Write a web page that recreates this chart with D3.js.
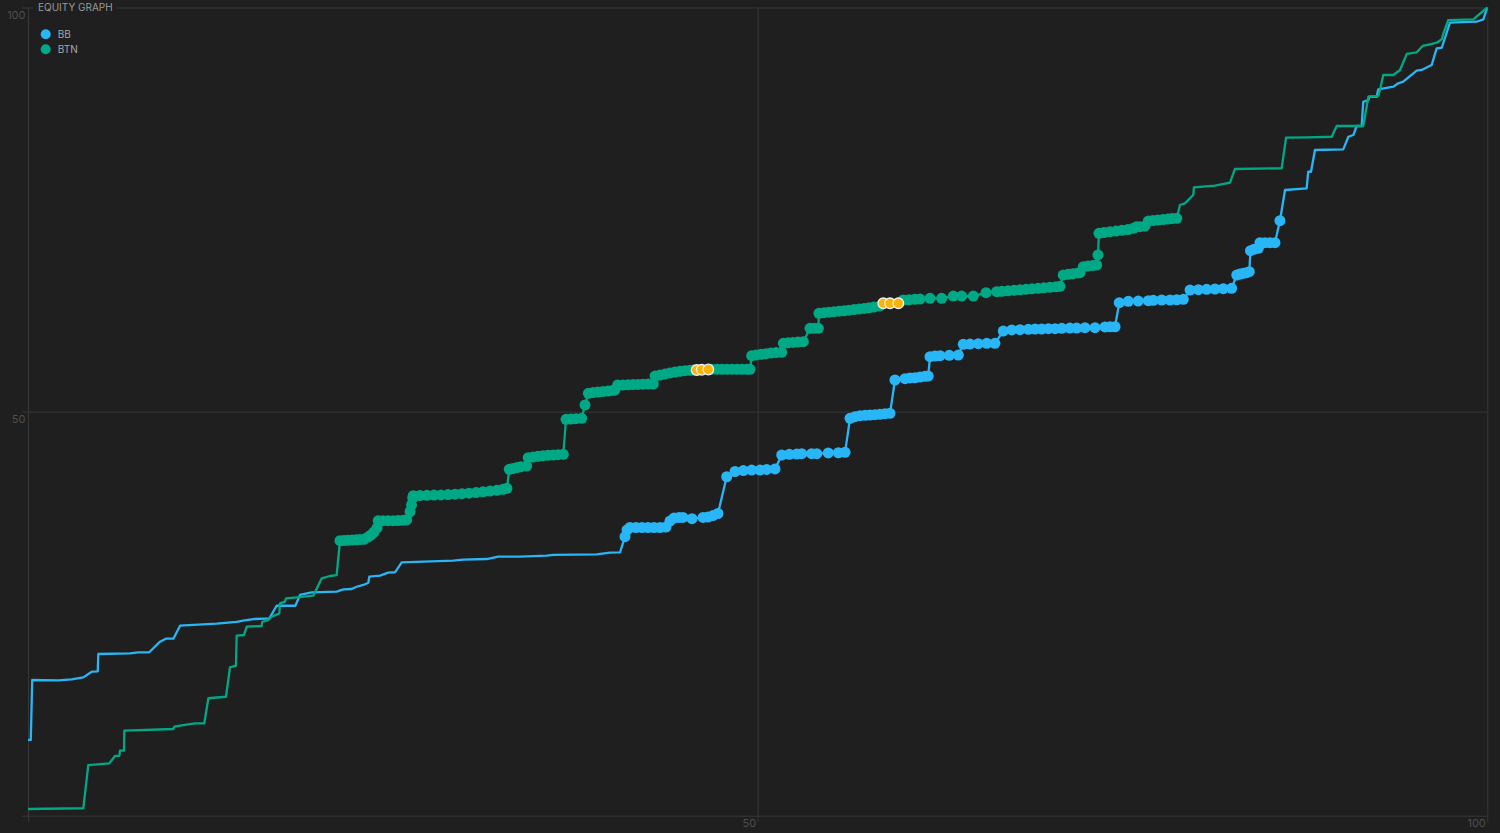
<!DOCTYPE html>
<html>
<head>
<meta charset="utf-8">
<script src="https://cdn.jsdelivr.net/npm/d3@7"></script>
<style>
  html, body { margin: 0; padding: 0; background: #1f1f1f; }
  svg { display: block; }
</style>
</head>
<body>
<svg id="chart" width="1500" height="833"></svg>
<script>
// ---------- DATA (x = % of range, y = equity %) ----------
const seriesNames = ["BB", "BTN"];
const axisTicks = [0, 50, 100];
const tickLabels = ["", "50", "100"];

const bbHead = [[0,9.37],[0.19,9.37],[0.29,16.79],[2.08,16.75],[2.99,16.88],[3.79,17.12],[4.37,17.82],[4.78,17.87],[4.82,20.01],[6.99,20.09],[7.56,20.22],[8.31,20.22],[9.05,21.53],[9.44,21.90],[9.96,21.90],[10.42,23.51],[12.93,23.76],[14.30,23.97],[14.75,24.13],[15.56,24.34],[16.54,24.42],[17.04,25.98],[18.32,25.98],[18.64,27.31],[19.44,27.64],[21.15,27.72],[21.61,28.01],[22.18,28.05],[22.52,28.33],[22.98,28.55],[23.32,28.83],[23.39,29.57],[24.12,29.70],[24.69,30.07],[25.15,30.12],[25.61,31.35],[29.14,31.55],[29.83,31.68],[31.43,31.76],[32.23,32.05],[33.71,32.05],[35.54,32.17],[36.00,32.26],[38.97,32.34],[39.88,32.54],[40.57,32.59]];
const bbDots = [[40.91,34.52],[41.05,35.35],[41.25,35.66],[41.66,35.66],[42.08,35.66],[42.49,35.66],[42.90,35.66],[43.31,35.66],[43.72,35.72],[43.99,36.46],[44.27,36.83],[44.61,36.90],[44.88,36.90],[45.50,36.75],[46.26,36.90],[46.60,36.96],[46.94,37.14],[47.28,37.39],
  [47.88,41.94],[48.45,42.59],[49.02,42.71],[49.59,42.77],[50.16,42.77],[50.62,42.84],[51.19,42.90],
  [51.65,44.63],[52.17,44.72],[52.68,44.75],[53.02,44.79],[53.70,44.79],[54.05,44.79],[54.84,44.88],[55.53,44.91],[55.99,44.96],
  [56.33,49.17],[56.67,49.37],[57.01,49.49],[57.36,49.54],[57.70,49.58],[58.04,49.62],[58.38,49.66],[58.73,49.74],[59.07,49.79],
  [59.41,53.91],[60.10,54.07],[60.44,54.16],[60.78,54.19],[61.13,54.28],[61.47,54.37],[61.69,54.40],
  [61.81,56.79],[62.15,56.88],[62.50,56.92],[63.13,56.97],[63.75,57.00],
  [64.09,58.33],[64.55,58.36],[65.12,58.40],[65.70,58.45],[66.26,58.45],
  [66.83,59.97],[67.41,60.10],[67.98,60.13],[68.55,60.18],[69.01,60.22],[69.46,60.22],[69.92,60.26],[70.38,60.26],[70.84,60.31],[71.40,60.34],[71.86,60.34],[72.43,60.38],[73.12,60.38],[73.80,60.47],[74.15,60.50],[74.49,60.50],
  [74.78,63.47],[75.40,63.65],[76.08,63.68],[76.77,63.72],[77.11,63.77],[77.69,63.81],[78.26,63.81],[78.72,63.84],[79.17,63.89],
  [79.63,65.04],[80.20,65.08],[80.77,65.13],[81.34,65.17],[81.91,65.21],[82.48,65.26],
  [82.83,66.90],[83.05,67.02],[83.28,67.11],[83.51,67.19],[83.69,67.31],
  [83.77,69.91],[84.01,70.08],[84.31,70.21],
  [84.42,70.90],[84.77,70.90],[85.11,70.90],[85.45,70.90],
  [85.79,73.62]];
const bbTail = [[86.14,77.42],[87.62,77.63],[87.73,79.68],[87.92,79.68],[88.19,82.37],[90.13,82.45],[90.48,84.01],[90.82,84.22],[91.05,85.34],[91.39,85.34],[91.50,88.34],[91.85,88.55],[91.92,88.96],[92.42,88.96],[92.53,89.88],[93.56,90.20],[93.90,90.62],[94.24,90.82],[95.16,92.18],[95.50,92.27],[96.19,92.88],[96.53,94.95],[96.88,95.02],[97.44,98.12],[99.27,98.24],[99.73,98.54],[100,100]];

const btnHead = [[0,0.83],[3.79,0.92],[4.13,6.27],[5.57,6.48],[5.96,7.39],[6.26,7.39],[6.30,8.04],[6.58,8.04],[6.60,10.52],[9.96,10.73],[10.03,11.01],[10.64,11.22],[11.44,11.43],[12.08,11.43],[12.36,14.53],[13.57,14.72],[13.84,18.36],[14.25,18.56],[14.30,22.27],[14.80,22.36],[14.99,23.39],[16.01,23.47],[16.06,24.00],[16.47,24.21],[16.70,24.62],[17.22,25.04],[17.27,26.28],[17.61,26.48],[17.68,26.90],[18.41,27.02],[19.55,27.22],[20.13,29.37],[20.69,29.66],[21.15,29.78]];
const btnDots = [[21.38,34.03],[21.65,34.05],[21.93,34.09],[22.20,34.11],[22.48,34.14],[22.75,34.17],[23.02,34.20],[23.30,34.48],[23.50,34.73],[23.71,35.10],[23.92,35.60],
  [24.00,36.50],[24.33,36.50],[24.67,36.50],[25.01,36.50],[25.35,36.52],[25.70,36.55],[25.95,36.59],
  [26.18,37.61],[26.28,38.44],[26.36,39.31],[26.40,39.59],[26.86,39.62],[27.34,39.64],[27.82,39.67],[28.30,39.69],[28.78,39.73],[29.26,39.78],[29.74,39.84],[30.22,39.90],[30.70,39.98],[31.18,40.08],[31.66,40.17],[32.14,40.27],[32.55,40.38],[32.82,40.51],
  [32.98,42.86],[33.24,42.96],[33.51,43.08],[33.78,43.18],[34.17,43.27],
  [34.28,44.30],[34.61,44.38],[34.95,44.47],[35.29,44.54],[35.63,44.59],[35.98,44.63],[36.32,44.67],[36.68,44.72],
  [36.87,49.05],[37.21,49.08],[37.55,49.12],[37.94,49.17],
  [38.17,50.82],
  [38.40,52.26],[38.72,52.36],[39.06,52.42],[39.40,52.48],[39.75,52.55],[40.09,52.63],[40.22,52.67],
  [40.41,53.29],[40.77,53.29],[41.12,53.31],[41.46,53.34],[41.80,53.36],[42.14,53.39],[42.49,53.41],[42.85,53.41],
  [42.97,54.40],[43.31,54.53],[43.65,54.65],[43.99,54.78],[44.34,54.90],[44.68,54.99],[45.02,55.06],[45.36,55.11],[45.59,55.14],
  [46.85,55.23],[47.21,55.23],[47.56,55.23],[47.90,55.23],[48.24,55.23],[48.59,55.23],[48.93,55.23],[49.27,55.23],[49.48,55.23],
  [49.59,56.92],[49.89,57.00],[50.23,57.09],[50.57,57.16],[50.91,57.25],[51.26,57.30],[51.65,57.34],
  [51.76,58.45],[52.08,58.51],[52.42,58.56],[52.77,58.61],[53.13,58.65],
  [53.59,60.31],[53.86,60.31],[54.16,60.31],
  [54.20,62.16],[54.55,62.24],[54.89,62.30],[55.23,62.36],[55.58,62.42],[55.92,62.48],[56.26,62.55],[56.60,62.62],[56.95,62.69],[57.29,62.77],[57.63,62.85],[57.97,62.94],[58.38,63.07],
  [59.98,63.81],[60.37,63.84],[60.78,63.89],[61.13,63.93],[61.81,64.02],[62.61,64.02],[63.41,64.30],[63.98,64.30],[64.78,64.30],[65.65,64.71],
  [66.38,64.84],[66.74,64.89],[67.16,64.95],[67.57,65.01],[67.98,65.07],[68.39,65.13],[68.80,65.19],[69.21,65.26],[69.62,65.32],[70.03,65.38],[70.44,65.44],[70.72,65.50],
  [70.94,66.90],[71.27,66.99],[71.61,67.07],[71.95,67.15],[72.09,67.19],
  [72.32,67.93],[72.64,68.01],[72.98,68.08],[73.23,68.14],
  [73.32,69.38],
  [73.39,72.06],[73.73,72.16],[74.15,72.26],[74.56,72.34],[74.97,72.44],[75.38,72.53],[75.74,72.68],[75.97,72.88],[76.20,72.88],[76.54,72.96],
  [76.77,73.58],[77.09,73.64],[77.43,73.70],[77.78,73.77],[78.12,73.83],[78.40,73.88],[78.72,73.92]];
const btnHot = [[45.82,55.14],[46.17,55.17],[46.62,55.21],[58.61,63.40],[59.07,63.40],[59.64,63.40]];
const btnTail = [[78.94,75.56],[79.28,75.77],[79.85,76.80],[79.90,77.75],[81.34,77.95],[82.37,78.32],[82.71,80.02],[85.91,80.10],[86.21,83.89],[87.73,83.94],[89.34,84.01],[89.68,85.34],[91.50,85.34],[91.85,88.96],[92.53,89.05],[92.65,89.79],[92.87,91.65],[93.56,91.65],[94.02,92.27],[94.48,94.25],[95.16,94.46],[95.57,95.24],[96.08,95.45],[96.53,95.64],[96.88,96.07],[96.99,96.81],[97.33,98.45],[99.04,98.54],[100,100]];

(function () {
// ---------- STYLE ----------
const colors = { BB: "#29b6f6", BTN: "#00a986" };
const hotColor = "#ffb300";
const bg = "#1f1f1f";
const gridColor = "#383838";
const labelColor = "#4e4e4e";
const font = "Inter, 'Open Sans', sans-serif";

const svg = d3.select("#chart");
svg.append("rect").attr("width", 1500).attr("height", 833).attr("fill", bg);

const pLeft = 28, pRight = 1487.3, pTop = 7.5, pBottom = 815.7;
const x = d3.scaleLinear().domain([0, 100]).range([pLeft, pRight]);
const y = d3.scaleLinear().domain([0, 100]).range([pBottom, pTop]);

// axes & grid
const fmt = d => tickLabels[axisTicks.indexOf(d)];
const xAxis = svg.append("g")
  .attr("transform", `translate(0,${pBottom + 6})`)
  .call(d3.axisBottom(x).tickValues(axisTicks).tickSize(-(pBottom - pTop + 6)).tickFormat(fmt));
const yAxis = svg.append("g")
  .attr("transform", `translate(${pLeft - 6},0)`)
  .call(d3.axisLeft(y).tickValues(axisTicks).tickSize(-(pRight - pLeft + 6)).tickFormat(fmt));
[xAxis, yAxis].forEach(g => {
  g.select(".domain").remove();
  g.selectAll(".tick line").attr("stroke", gridColor).attr("stroke-width", 1);
  g.selectAll(".tick text").attr("fill", labelColor).attr("font-family", font).attr("font-size", 11);
});
xAxis.selectAll(".tick text").attr("text-anchor", "end").attr("x", -2).attr("y", 1).attr("dy", "0.35em");
yAxis.selectAll(".tick text").attr("text-anchor", "end").attr("x", 3.5).attr("y", 6.8).attr("dy", "0.35em");

// title over top border
svg.append("rect").attr("x", 33).attr("y", 2).attr("width", 83).attr("height", 12).attr("fill", bg);
svg.append("text").attr("x", 38).attr("y", 10.8).text("EQUITY GRAPH")
  .attr("fill", "#9a9a9a").attr("font-family", font).attr("font-size", 10);

// lines
const line = d3.line().x(d => x(d[0])).y(d => y(d[1]));
const bbAll = bbHead.concat(bbDots, bbTail);
const btnAll = btnHead.concat(btnDots, btnHot, btnTail).sort((a, b) => a[0] - b[0]);

svg.append("path").datum(bbAll).attr("d", line).attr("fill", "none")
  .attr("stroke", colors.BB).attr("stroke-width", 2.3).attr("stroke-linejoin", "round");
svg.selectAll("circle.bb").data(bbDots).enter().append("circle").attr("class", "bb")
  .attr("cx", d => x(d[0])).attr("cy", d => y(d[1])).attr("r", 5.5).attr("fill", colors.BB);

svg.append("path").datum(btnAll).attr("d", line).attr("fill", "none")
  .attr("stroke", colors.BTN).attr("stroke-width", 2.3).attr("stroke-linejoin", "round");
svg.selectAll("circle.btn").data(btnDots).enter().append("circle").attr("class", "btn")
  .attr("cx", d => x(d[0])).attr("cy", d => y(d[1])).attr("r", 5.5).attr("fill", colors.BTN);
svg.selectAll("circle.hot").data(btnHot).enter().append("circle").attr("class", "hot")
  .attr("cx", d => x(d[0])).attr("cy", d => y(d[1])).attr("r", 5.3).attr("fill", hotColor)
  .attr("stroke", "#f2f2f2").attr("stroke-width", 1.3);

// legend
const lg = svg.append("g").attr("transform", "translate(45.7,34.3)");
seriesNames.forEach((n, i) => {
  lg.append("circle").attr("cx", 0).attr("cy", i * 15).attr("r", 5).attr("fill", colors[n]);
  lg.append("text").attr("x", 12).attr("y", i * 15).attr("dy", "0.35em").text(n)
    .attr("fill", "#a8a8a8").attr("font-family", font).attr("font-size", 10);
});
})();
</script>
</body>
</html>
